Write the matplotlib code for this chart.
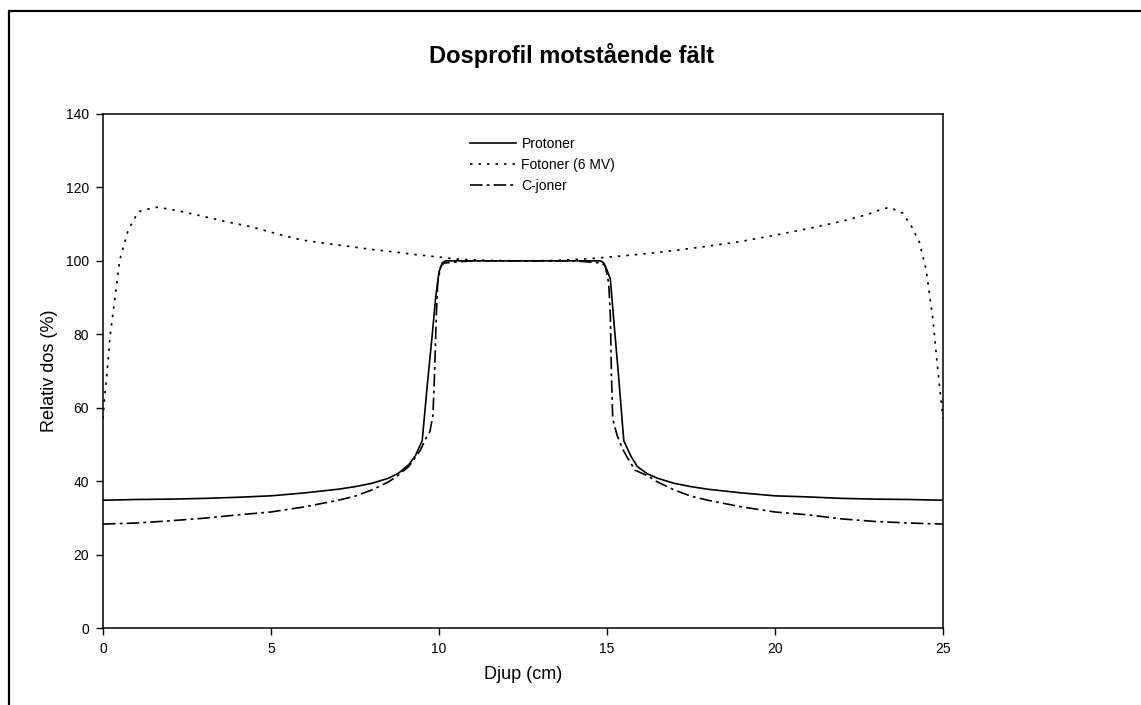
import matplotlib.pyplot as plt
from matplotlib.patches import Rectangle

plt.rcParams['font.family'] = ['Liberation Sans', 'DejaVu Sans']

# djup (cm) och relativ dos (%)
djup_prot = [0, 1, 2, 3, 4, 5, 6, 7, 7.5, 8, 8.5, 8.8, 9.1, 9.3, 9.5, 9.65, 9.8,
             9.9, 10.0, 10.1, 10.2, 11, 12, 13, 14, 14.8, 14.9, 15.0, 15.1, 15.2,
             15.35, 15.5, 15.7, 15.9, 16.2, 16.5, 17, 17.5, 18, 19, 20, 21, 22, 23,
             24, 25]
dos_prot = [34.8, 35.0, 35.1, 35.3, 35.6, 36.0, 36.8, 37.8, 38.5, 39.4, 40.8, 42.2,
            44.5, 47.0, 51.0, 66.0, 80.0, 90.0, 97.0, 99.5, 100, 100, 100, 100, 100,
            100, 99.5, 97.5, 95.0, 84.0, 68.0, 51.0, 47.0, 44.0, 42.0, 40.8, 39.4,
            38.5, 37.8, 36.8, 36.0, 35.7, 35.3, 35.1, 35.0, 34.8]

djup_fot = [0, 0.05, 0.11, 0.21, 0.36, 0.5, 0.75, 1.05, 1.5, 1.64, 2.2, 2.9, 3.6,
            4.4, 5.2, 5.9, 6.6, 7.35, 8.0, 8.7, 9.3, 9.94, 10.5, 11.5, 12.5, 13.5,
            14.5, 15.0, 16.0, 17.0, 18.0, 19.0, 20.0, 21.0, 22.0, 22.7, 23.1, 23.4,
            23.8, 24.07, 24.3, 24.5, 24.7, 24.85, 25]
dos_fot = [57.0, 63.0, 68.5, 79.4, 90.3, 100.3, 108.4, 113.4, 114.5, 114.6, 113.7,
           112.3, 110.8, 109.3, 107.3, 105.7, 104.8, 103.9, 103.1, 102.4, 101.7,
           101.1, 100.5, 100.1, 100.0, 100.1, 100.6, 101.0, 101.8, 102.8, 104.0,
           105.3, 107.0, 108.8, 110.8, 112.5, 113.8, 114.6, 113.0, 109.3, 105.0,
           97.5, 84.0, 70.0, 57.0]

djup_c = [0, 1, 2, 3, 4, 5, 6, 7, 7.5, 8, 8.5, 8.8, 9.1, 9.3, 9.45, 9.6, 9.73,
          9.82, 9.87, 9.92, 9.96, 10.05, 10.15, 10.4, 11, 12, 13, 14, 14.6, 14.85,
          14.95, 15.05, 15.1, 15.13, 15.17, 15.3, 15.45, 15.6, 15.83, 16.2, 16.5,
          17, 17.5, 18, 19, 20, 21, 22, 23, 24, 25]
dos_c = [28.3, 28.6, 29.2, 29.9, 30.8, 31.6, 33.0, 34.8, 35.9, 37.6, 39.8, 41.7,
         44.0, 46.5, 48.5, 51.5, 53.5, 58.0, 70.0, 85.0, 94.0, 98.5, 99.4, 99.6,
         100, 100, 100, 100, 99.6, 99.4, 98.5, 94.0, 85.0, 70.0, 57.0, 52.5, 49.0,
         46.5, 43.0, 41.5, 39.8, 37.6, 35.9, 34.8, 33.0, 31.6, 30.8, 29.7, 29.0,
         28.6, 28.3]

fig = plt.figure(figsize=(11.41, 7.05), dpi=100)
ax = fig.add_axes([103 / 1141, 1 - 628 / 705, 840 / 1141, 514 / 705])

# ram runt hela diagrammet (går utanför bilden till höger och nedåt)
fig.patches.append(Rectangle((9 / 1141, -0.1), 1.2, 1.1 - 11 / 705,
                             transform=fig.transFigure, fill=False,
                             edgecolor='black', linewidth=1.6))

ax.plot(djup_prot, dos_prot, color='black', linewidth=1.2, label='Protoner')
ax.plot(djup_fot, dos_fot, color='black', linewidth=1.2,
        linestyle=(0, (1.5, 3.6)), label='Fotoner (6 MV)')
ax.plot(djup_c, dos_c, color='black', linewidth=1.2,
        linestyle=(0, (7.5, 2.5, 1.7, 2.5)), label='C-joner')

ax.set_xlim(0, 25)
ax.set_ylim(0, 140)
ax.set_xticks(range(0, 26, 5))
ax.set_yticks(range(0, 141, 20))
ax.tick_params(direction='out', length=5, width=1, labelsize=10, pad=5)
for s in ax.spines.values():
    s.set_linewidth(1.1)

ax.set_xlabel('Djup (cm)', fontsize=13, labelpad=7)
ax.set_ylabel('Relativ dos (%)', fontsize=13, labelpad=6)
fig.text(0.501, 1 - 55 / 705, 'Dosprofil motstående fält', fontsize=17,
         fontweight='bold', ha='center', va='center')

ax.legend(loc='upper left', bbox_to_anchor=(0.437, 0.955), frameon=False,
          fontsize=10, handlelength=3.3, handletextpad=0.4, labelspacing=0.5,
          borderpad=0, borderaxespad=0)

plt.savefig('out.png', dpi=100)
